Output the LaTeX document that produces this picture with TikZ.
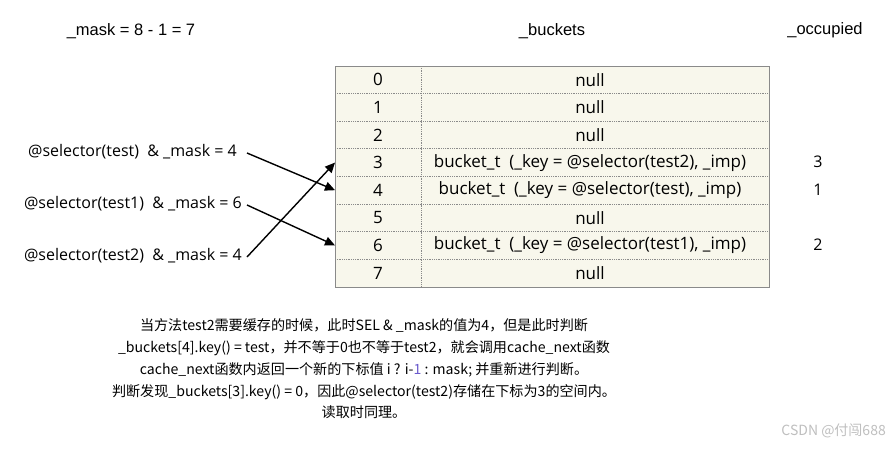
\documentclass[tikz,border=0pt]{standalone}
\usepackage{fontspec}
\setmainfont{Open Sans}
\newfontfamily\cjk{Noto Sans CJK SC}
\newfontfamily\narrow{Liberation Sans}
\usetikzlibrary{arrows.meta}
\definecolor{cellbg}{HTML}{F8F7EC}
\definecolor{gridgray}{HTML}{8A8A8A}
\definecolor{numpurple}{HTML}{6A5ACD}
\begin{document}
\begin{tikzpicture}[x=1pt,y=-1pt,
  lbl/.style={font=\fontsize{16}{18}\selectfont, inner sep=0pt},
  hdr/.style={font=\narrow\fontsize{16.5}{18}\selectfont, inner sep=0pt},
  cell/.style={font=\fontsize{17}{19}\selectfont, inner sep=0pt},
  arr/.style={-{Triangle[length=10pt,width=9pt]}, line width=1.4pt},
  note/.style={font=\cjk\fontsize{14.1}{21.8}\selectfont, align=center, inner sep=0pt}
]
\useasboundingbox (0,0) rectangle (889,448);
\fill[white] (0,0) rectangle (889,448);
% table
\fill[cellbg] (335,66) rectangle (769,287);
\foreach \y in {93.6,121.2,148.8,176.4,204,231.6,259.2}
  \draw[gridgray, densely dotted, line width=0.8pt] (335,\y) -- (769,\y);
\draw[gridgray, densely dotted, line width=0.8pt] (421,66) -- (421,287);
\draw[gridgray, line width=1pt] (335,66) rectangle (769,287);
% headers
\node[hdr] (mask) at (131,31) {\_mask = 8 - 1 = 7};
\node[hdr] (bk) at (552,31) {\_buckets};
\node[hdr] (occ) at (825,30) {\_occupied};
% cells
\foreach \i/\t in {0/null,1/null,2/null,3/{bucket\_t\ \ (\_key = @selector(test2), \_imp)},4/{bucket\_t\ \ (\_key = @selector(test), \_imp)},5/null,6/{bucket\_t\ \ (\_key = @selector(test1), \_imp)},7/null}{
  \node[cell] (i\i) at (378,{79.8+27.6*\i}) {\i};
  \node[cell] (v\i) at (590,{79.8+27.6*\i}) {\t};
  \coordinate (e\i) at (335,{79.8+27.6*\i});
}
% occupied
\node[lbl] (o3) at (818,162) {3};
\node[lbl] (o1) at (818,190) {1};
\node[lbl] (o2) at (818,245) {2};
% left labels
\node[lbl, anchor=east] (s0) at (237,152) {@selector(test)\ \ \&\ \_mask = 4};
\node[lbl, anchor=east] (s1) at (242,204) {@selector(test1)\ \ \&\ \_mask = 6};
\node[lbl, anchor=east] (s2) at (242,256) {@selector(test2)\ \ \&\ \_mask = 4};
\coordinate (a0) at (247,153);
\coordinate (a1) at (247,205);
\coordinate (a2) at (247,257);
\draw[arr] (a0) -- (e4);
\draw[arr] (a1) -- (e6);
\draw[arr] (a2) -- (e3);
% note
\node[note] (note) at (364,369) {当方法test2需要缓存的时候，此时SEL \& \_mask的值为4，但是此时判断\\
\_buckets[4].key() = test，并不等于0也不等于test2，就会调用cache\_next函数\\
cache\_next函数内返回一个新的下标值 i ? i-{\color{numpurple}1} : mask; 并重新进行判断。\\
判断发现\_buckets[3].key() = 0，因此@selector(test2)存储在下标为3的空间内。\\
读取时同理。};
\node[font=\cjk\fontsize{14}{16}\selectfont, text=black!25, anchor=east, inner sep=0pt] (wm) at (886,431) {CSDN @付闯688};
\end{tikzpicture}
\end{document}
